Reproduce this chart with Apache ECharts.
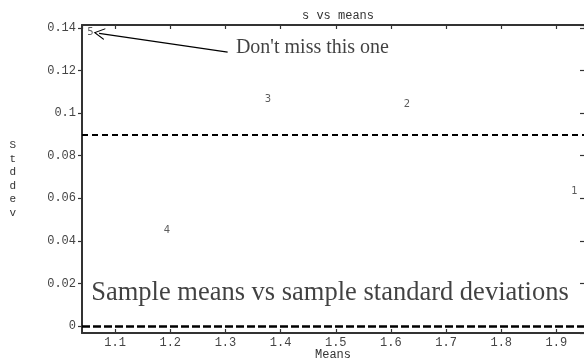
<!DOCTYPE html>
<html>
<head>
<meta charset="utf-8">
<script src="https://cdn.jsdelivr.net/npm/echarts@6/dist/echarts.min.js"></script>
<style>html,body{margin:0;padding:0;background:#fff;}#c{width:584px;height:360px;}</style>
</head>
<body>
<div id="c"></div>
<script>
// Data
const means = [1.9326, 1.629, 1.3769, 1.194, 1.0553];
const stddevs = [0.0630, 0.1043, 0.1066, 0.0451, 0.1377];
const pointLabels = ['1', '2', '3', '4', '5'];
const refLines = [0.09, 0];
const noteText = "Don't miss this one";
const noteAt = [1.319, 0.1306];
const arrowFrom = [1.304, 0.1287];
const arrowTo = [1.071, 0.1375];
const captionText = 'Sample means vs sample standard deviations';
const captionAt = [1.0566, 0.0153];

const mono = 'Liberation Mono';
const serif = 'Liberation Serif';
const chart = echarts.init(document.getElementById('c'), null, {renderer: 'canvas'});

const pts = means.map((m, i) => [m, stddevs[i], pointLabels[i]]);

chart.setOption({
  animation: false,
  backgroundColor: '#fff',
  title: {
    text: 's vs means', left: 333, top: 5, textAlign: 'center',
    textStyle: {fontFamily: mono, fontSize: 12, fontWeight: 'normal', color: '#333'}
  },
  grid: {left: 82, right: 0, top: 25, bottom: 27, containLabel: false, outerBoundsMode: 'none'},
  xAxis: [{
    type: 'value', position: 'bottom', min: 1.04, max: 1.95, splitNumber: 9,
    name: 'Means', nameLocation: 'middle', nameGap: 16, nameMoveOverlap: false,
    nameTextStyle: {fontFamily: mono, fontSize: 12, color: '#333', verticalAlign: 'top'},
    axisLine: {show: true, onZero: false, lineStyle: {color: '#333', width: 2}},
    axisTick: {show: true, inside: true, length: 4, lineStyle: {color: '#333', width: 1.2}},
    axisLabel: {show: true, margin: 4, showMinLabel: false, showMaxLabel: false,
      fontFamily: mono, fontSize: 12, color: '#444'},
    splitLine: {show: false}
  }, {
    type: 'value', position: 'top', min: 1.04, max: 1.95, splitNumber: 9,
    axisLine: {show: true, onZero: false, lineStyle: {color: '#333', width: 2}},
    axisTick: {show: true, inside: true, length: 4, lineStyle: {color: '#333', width: 1.2}},
    axisLabel: {show: false},
    splitLine: {show: false}
  }],
  yAxis: [{
    type: 'value', position: 'left', min: -0.0033, max: 0.1414, splitNumber: 7,
    name: 'S\nt\nd\nd\ne\nv', nameLocation: 'middle', nameRotate: 0, nameGap: 66, nameMoveOverlap: false,
    nameTextStyle: {fontFamily: mono, fontSize: 11, color: '#333', lineHeight: 13.5, padding: [0, 0, 6, 0]},
    axisLine: {show: true, onZero: false, lineStyle: {color: '#333', width: 2}},
    axisTick: {show: true, inside: false, length: 4, lineStyle: {color: '#333', width: 1.2}},
    axisLabel: {show: true, margin: 6, showMinLabel: false, showMaxLabel: false,
      fontFamily: mono, fontSize: 12, color: '#444'},
    splitLine: {show: false}
  }, {
    type: 'value', position: 'right', min: -0.0033, max: 0.1414, splitNumber: 7,
    axisLine: {show: false},
    axisTick: {show: true, inside: true, length: 4, lineStyle: {color: '#333', width: 1.2}},
    axisLabel: {show: false},
    splitLine: {show: false}
  }],
  series: [{
    type: 'scatter',
    xAxisIndex: 0, yAxisIndex: 0,
    data: pts,
    symbolSize: 1,
    itemStyle: {color: 'rgba(0,0,0,0)'},
    label: {show: true, position: 'inside', formatter: p => p.value[2],
      fontFamily: 'DejaVu Sans', fontSize: 10, color: '#333'},
    emphasis: {disabled: true},
    markLine: {
      silent: true,
      symbol: ['none', 'none'],
      label: {show: false},
      data: [
        {yAxis: refLines[0], lineStyle: {color: '#000', width: 2, type: [6, 4]}},
        {yAxis: refLines[1], lineStyle: {color: '#000', width: 2.5, type: [8, 3]}},
        [{coord: arrowFrom, symbol: 'none'},
         {coord: arrowTo, symbol: 'path://M5,0 L10,10 L9,10 L5,2 L1,10 L0,10 Z', symbolSize: [12, 11],
          lineStyle: {color: '#000', width: 1.3, type: 'solid'}}]
      ]
    }
  }, {
    type: 'scatter',
    xAxisIndex: 0, yAxisIndex: 0,
    data: [
      {value: [noteAt[0], noteAt[1], noteText], label: {fontSize: 20}},
      {value: [captionAt[0], captionAt[1], captionText], label: {fontSize: 26.5}}
    ],
    symbolSize: 1,
    itemStyle: {color: 'rgba(0,0,0,0)'},
    emphasis: {disabled: true},
    label: {show: true, position: 'inside', align: 'left', verticalAlign: 'middle',
      formatter: p => p.value[2], fontFamily: serif, color: '#111', fontSize: 20}
  }]
});
</script>
</body>
</html>
